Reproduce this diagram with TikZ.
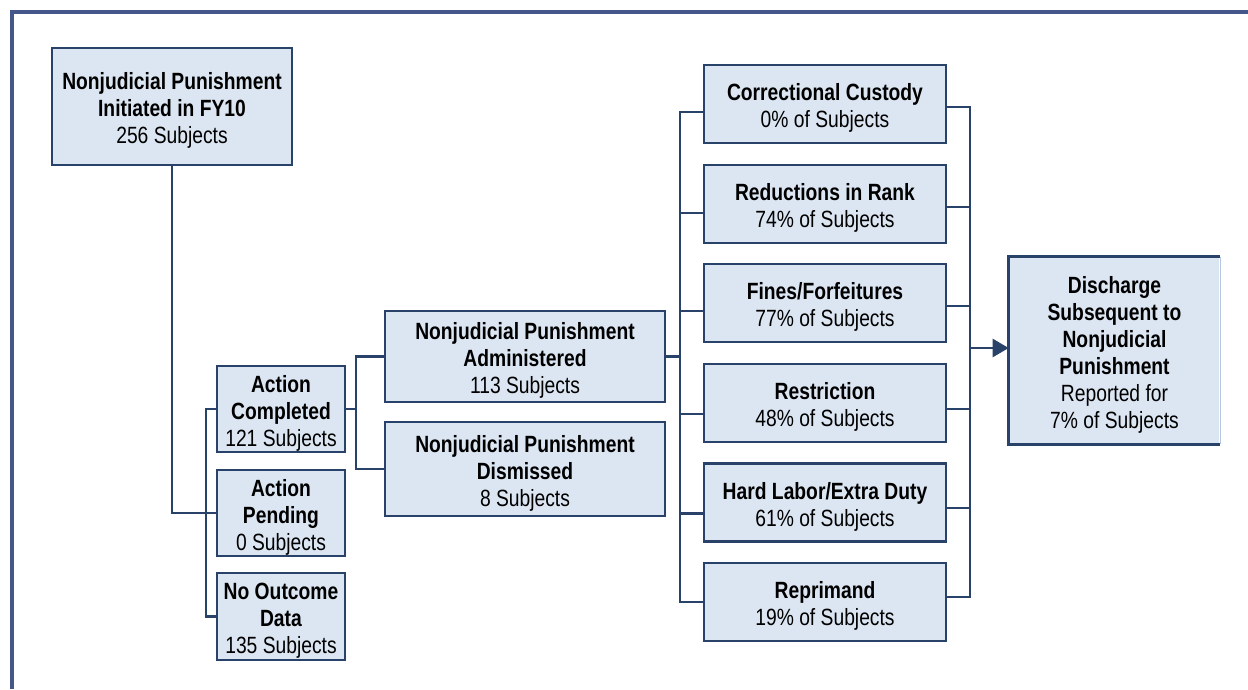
\documentclass[tikz,border=0pt]{standalone}
\usepackage{fontspec}
\setmainfont{Liberation Sans}[FakeStretch=0.82]
\usetikzlibrary{arrows.meta,calc}
\definecolor{boxfill}{RGB}{220,230,242}
\definecolor{boxline}{RGB}{40,66,106}
\definecolor{frameblue}{RGB}{68,86,138}
\definecolor{edgelight}{RGB}{180,198,224}
\newcommand{\tstr}{\rule{0pt}{25pt}}
\begin{document}
\begin{tikzpicture}[x=1pt,y=-1pt,
  box/.style={draw=boxline, line width=2.6pt, fill=boxfill, inner sep=0pt, align=center,
              font=\fontsize{23.5}{27}\selectfont},
  rbox/.style={box, minimum width=242pt, minimum height=78pt},
  conn/.style={draw=boxline, line width=2.3pt},
  framestyle/.style={draw=frameblue, line width=4pt}]
\useasboundingbox (0,0) rectangle (1248,689);
\draw[framestyle] (11.5,689) -- (11.5,12) -- (1248,12);

% nodes
\node[box, minimum width=240pt, minimum height=117pt] (init) at (172,106.5)
  {\tstr\textbf{Nonjudicial Punishment}\\\textbf{Initiated in FY10}\\256 Subjects};
\node[box, minimum width=128pt, minimum height=86pt] (comp) at (281,409)
  {\tstr\textbf{Action}\\\textbf{Completed}\\121 Subjects};
\node[box, minimum width=128pt, minimum height=86pt] (pend) at (281,513)
  {\tstr\textbf{Action}\\\textbf{Pending}\\0 Subjects};
\node[box, minimum width=128pt, minimum height=87pt] (noout) at (281,616.5)
  {\tstr\textbf{No Outcome}\\\textbf{Data}\\135 Subjects};
\node[box, minimum width=280pt, minimum height=91pt] (adm) at (525,356.5)
  {\tstr\textbf{Nonjudicial Punishment}\\\textbf{Administered}\\113 Subjects};
\node[box, minimum width=280pt, minimum height=94pt] (dis) at (525,469)
  {\tstr\textbf{Nonjudicial Punishment}\\\textbf{Dismissed}\\8 Subjects};
\node[rbox] (cc) at (825,104) {\tstr\textbf{Correctional Custody}\\0\% of Subjects};
\node[rbox] (rr) at (825,204) {\tstr\textbf{Reductions in Rank}\\74\% of Subjects};
\node[rbox] (ff) at (825,303) {\tstr\textbf{Fines/Forfeitures}\\77\% of Subjects};
\node[rbox] (rs) at (825,403) {\tstr\textbf{Restriction}\\48\% of Subjects};
\node[rbox] (hl) at (825,502.5) {\tstr\textbf{Hard Labor/Extra Duty}\\61\% of Subjects};
\node[rbox] (rp) at (825,602) {\tstr\textbf{Reprimand}\\19\% of Subjects};
\node[box, draw=none, minimum width=209pt, minimum height=185pt] (dsc) at (1114.5,350.5)
  {\tstr\textbf{Discharge}\\\textbf{Subsequent to}\\\textbf{Nonjudicial}\\\textbf{Punishment}\\Reported for\\7\% of Subjects};
\draw[draw=edgelight, line width=1.2pt] (dsc.north east) -- (dsc.south east);
\draw[draw=boxline, line width=2.6pt] (dsc.north east) -- (dsc.north west) -- (dsc.south west) -- (dsc.south east);

% connectors
\coordinate (j1) at (206,513);
\draw[conn] (init.south) |- (j1);
\draw[conn] (comp.west) -| (j1) |- (noout.west);
\draw[conn] (pend.west) -- (j1);

\coordinate (j2) at (356,412);
\draw[conn] (comp.east) -- (comp.east -| j2);
\draw[conn] (adm.west) -| (j2) |- (dis.west);

\coordinate (j3) at (680,352);
\draw[conn] (adm.east) -- (adm.east -| j3);
\draw[conn] ([yshift=-8pt]cc.west) -| (j3) |- (rp.west);
\draw[conn] ([yshift=-9pt]rr.west) -- ++(-24,0);
\draw[conn] ([yshift=-8pt]ff.west) -- ++(-24,0);
\draw[conn] ([yshift=-11pt]rs.west) -- ++(-24,0);
\draw[conn] ([yshift=-11pt]hl.west) -- ++(-24,0);

\coordinate (j4) at (970,348);
\draw[conn] ([yshift=-3pt]cc.east) -| (j4) |- ([yshift=5pt]rp.east);
\draw[conn] ([yshift=-3pt]rr.east) -- ++(24,0);
\draw[conn] ([yshift=-3pt]ff.east) -- ++(24,0);
\draw[conn] ([yshift=-6pt]rs.east) -- ++(24,0);
\draw[conn] ([yshift=-5.5pt]hl.east) -- ++(24,0);
\draw[conn, -{Triangle[length=16pt,width=18pt]}] (j4) -- (j4 -| dsc.west);
\end{tikzpicture}
\end{document}
